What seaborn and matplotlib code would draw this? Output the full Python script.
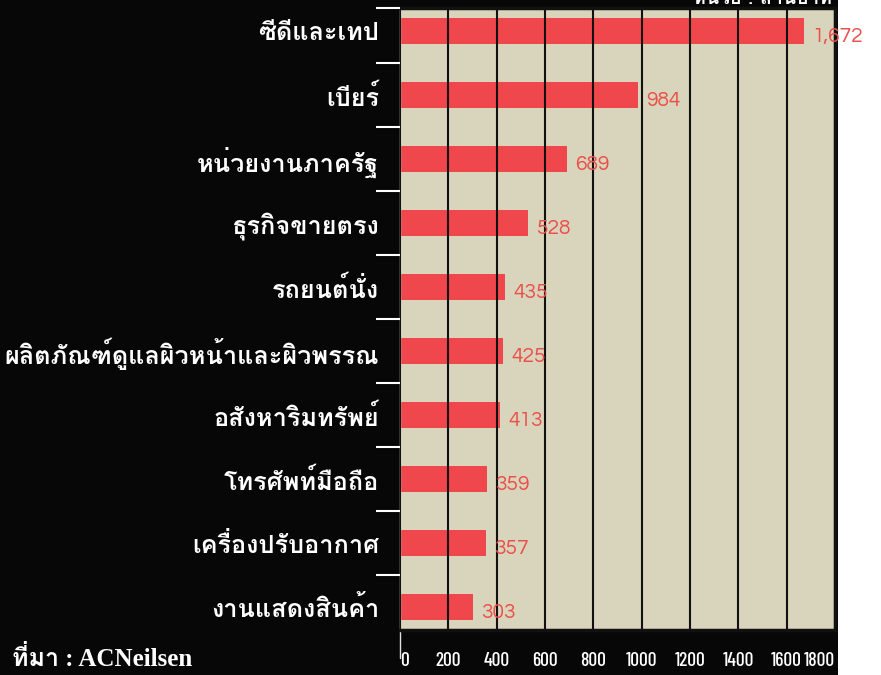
import matplotlib
matplotlib.use("Agg")
import matplotlib.pyplot as plt
import seaborn as sns
import pandas as pd
from matplotlib import font_manager as fm
from matplotlib.ticker import FixedLocator
from matplotlib.patches import Rectangle
import matplotlib.transforms as mtransforms

categories = ["ซีดีและเทป", "เบียร์", "หน่วยงานภาครัฐ", "ธุรกิจขายตรง", "รถยนต์นั่ง",
              "ผลิตภัณฑ์ดูแลผิวหน้าและผิวพรรณ", "อสังหาริมทรัพย์", "โทรศัพท์มือถือ",
              "เครื่องปรับอากาศ", "งานแสดงสินค้า"]
values = [1672, 984, 689, 528, 435, 425, 413, 359, 357, 303]
x_ticks = [0, 200, 400, 600, 800, 1000, 1200, 1400, 1600, 1800]
unit_text = "หน่วย : ล้านบาท"
source_text = "ที่มา : ACNeilsen"

sns.set_theme(style="white")

available = set(f.name for f in fm.fontManager.ttflist)


def pick(*names):
    for n in names:
        if n in available:
            return n
    return "DejaVu Sans"


thai_font = pick("Loma", "Noto Sans Thai Looped", "IBM Plex Sans Thai Looped", "Sarabun")
cond_font = pick("Barlow Condensed", "Asap Condensed", "Archivo Narrow")
num_font = pick("Questrial", "Didact Gothic", "Mulish", "Lato")
plt.rcParams["font.family"] = [thai_font, "DejaVu Sans"]

W, H = 881, 675
fig = plt.figure(figsize=(W / 100, H / 100), dpi=100, facecolor="#070707")
ax = fig.add_axes([400 / W, 1 - 630 / H, 435 / W, 622 / H])
fig.patches.append(Rectangle((838 / W, 0), 1 - 838 / W, 1, transform=fig.transFigure,
                             facecolor="white", edgecolor="none", zorder=-5))

df = pd.DataFrame({"cat": categories, "val": values})
sns.barplot(data=df, x="val", y="cat", orient="h", color="#f0474c", saturation=1,
            width=0.41, ax=ax, zorder=1, linewidth=0, edgecolor="none")

ax.set_facecolor("#d8d5bc")
ax.set_xlim(0, 1800)
ax.set_ylim(9.36, -0.36)
ax.set_xticks(x_ticks)
ax.set_xticklabels([str(t) for t in x_ticks])
ax.set_xlabel("")
ax.set_ylabel("")
ax.set_axisbelow(False)
ax.grid(axis="x", color="#111111", linewidth=1.5)
ax.grid(axis="y", visible=False)

ax.yaxis.set_minor_locator(FixedLocator([-0.36] + [i + 0.5 for i in range(9)]))
ax.tick_params(axis="y", which="minor", left=True, length=17, width=1.5, color="white")
ax.tick_params(axis="y", which="major", length=0, pad=15, labelcolor="white", labelsize=18.2)
for lab in ax.get_yticklabels():
    lab.set_fontweight("bold")
ax.tick_params(axis="x", which="major", length=0, pad=16, labelcolor="white", labelsize=14)
xl = ax.get_xticklabels()
for lab in xl:
    lab.set_fontfamily([cond_font, "DejaVu Sans"])
    lab.set_fontweight("medium")
xl[-1].set_horizontalalignment("right")
xl[0].set_horizontalalignment("left")

for s in ["top", "right", "bottom"]:
    ax.spines[s].set_color("#111111")
    ax.spines[s].set_linewidth(2.5)
ax.spines["left"].set_color("#e0e0e0")
ax.spines["left"].set_linewidth(1.0)

trans = mtransforms.blended_transform_factory(ax.transData, ax.transAxes)
ax.plot([0, 0], [0, -0.045], transform=trans, color="#e0e0e0", lw=1.0, clip_on=False)

for i, v in enumerate(values):
    ax.annotate(f"{v:,}", xy=(v, i), xytext=(6, -4), textcoords="offset points",
                ha="left", va="center", color="#ec4f4a", fontsize=15,
                fontfamily=[num_font, "DejaVu Sans"], clip_on=False, zorder=5)

fig.text(832 / W, 1 + 3 / H, unit_text, ha="right", va="center", color="white",
         fontsize=14, fontweight="bold")
fig.text(12 / W, 1 - 659 / H, source_text, ha="left", va="center", color="white",
         fontsize=18, fontweight="bold", family=["Liberation Serif", thai_font])

fig.savefig("out.png", dpi=100, facecolor=fig.get_facecolor())
